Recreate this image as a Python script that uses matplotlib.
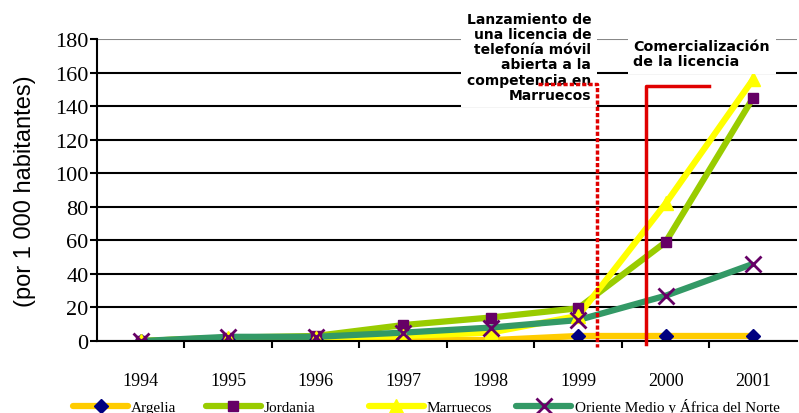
import matplotlib
matplotlib.use("Agg")
import matplotlib.pyplot as plt
from matplotlib.lines import Line2D

years = ["1994", "1995", "1996", "1997", "1998", "1999", "2000", "2001"]
argelia = [0, 0.5, 0.5, 1, 0.5, 3, 3, 3]
jordania = [0, 2, 3, 9.5, 14, 19.5, 59, 145]
marruecos = [0, 2, 2, 3, 5, 15, 82, 156]
oriente = [0, 2.5, 2.5, 5, 8, 12.5, 27, 46]
series_names = ["Argelia", "Jordania", "Marruecos", "Oriente Medio y África del Norte"]

yticks = [0, 20, 40, 60, 80, 100, 120, 140, 160, 180]
ylabel = "(por 1 000 habitantes)"
note1 = "Lanzamiento de\nuna licencia de\ntelefonía móvil\nabierta a la\ncompetencia en\nMarruecos"
note2 = "Comercialización\nde la licencia"
# event markers (category-index positions) and their top values
launch_x = [4.54, 5.22, 5.22]
launch_y = [153, 153, -3.5]
comm_x = [6.50, 5.78, 5.78]
comm_y = [152, 152, -2]

fig = plt.figure(figsize=(7.99, 4.14), dpi=100)
ax = fig.add_axes([0.1214, 0.1739, 0.876, 0.7295])

x = list(range(len(years)))
styles = [
    (argelia, "#FFCC00", "D", "#000080", 7, 1),
    (jordania, "#99CC00", "s", "#660066", 7, 1),
    (marruecos, "#FFFF00", "^", "#FFFF00", 10, 1),
    (oriente, "#339966", "x", "#660066", 12, 2),
]
handles = []
for vals, lc, mk, mc, ms, mew in styles:
    ax.plot(x, vals, color=lc, lw=4.5, solid_capstyle="butt", zorder=3)
    ax.plot(x, vals, ls="none", marker=mk, ms=ms, mfc=mc, mec=mc, mew=mew, zorder=4)
    handles.append(Line2D([0], [0], color=lc, lw=4.5, marker=mk, ms=ms, mfc=mc, mec=mc, mew=mew,
                          solid_capstyle="round"))

# red event lines
ax.plot(launch_x, launch_y, color="#E00000", lw=2.5, ls=(0, (1.2, 0.6)), zorder=6, clip_on=False)
ax.plot(comm_x, comm_y, color="#E00000", lw=2.5, zorder=6, clip_on=False)

ax.set_xlim(-0.5, 7.5)
ax.set_ylim(0, 180)
ax.set_yticks(yticks)
ax.set_yticklabels([str(v) for v in yticks], fontfamily="Liberation Serif", fontsize=16)
ax.set_xticks(x)
ax.set_xticklabels(years, fontfamily="Liberation Serif", fontsize=13)
ax.set_xticks([i + 0.5 for i in x[:-1]], minor=True)
ax.tick_params(axis="x", which="major", length=0, pad=22)
ax.tick_params(axis="x", which="minor", length=5, width=1.5, direction="out")
ax.tick_params(axis="y", length=5, width=1.5, direction="out", pad=1)

ax.yaxis.grid(True, color="black", lw=1.5, zorder=1)
ax.set_axisbelow(True)
for s in ["top", "right"]:
    ax.spines[s].set_visible(False)
for s in ["left", "bottom"]:
    ax.spines[s].set_linewidth(1.5)
    ax.spines[s].set_zorder(5)
gl = ax.get_ygridlines()
gl[-1].set_color("#888888")

ax.set_ylabel(ylabel, fontfamily="Liberation Sans", fontsize=17, labelpad=14)

ax.text(5.15, 196, note1, ha="right", va="top", fontsize=10, fontweight="bold",
        family="DejaVu Sans", linespacing=1.1, zorder=5,
        bbox=dict(facecolor="white", edgecolor="none", pad=4))
ax.text(5.63, 180, note2, ha="left", va="top", fontsize=10.3, fontweight="bold",
        family="DejaVu Sans", linespacing=1.1, zorder=5,
        bbox=dict(facecolor="white", edgecolor="none", pad=4))

# legends
legend_pos = [0.078, 0.244, 0.448, 0.633]
for h, name, px in zip(handles, series_names, legend_pos):
    fig.legend([h], [name], loc="lower left", bbox_to_anchor=(px, -0.028), frameon=False,
               handlelength=3.6, handletextpad=0.2, borderpad=0.2,
               prop={"family": "Liberation Serif", "size": 11})

fig.savefig("out.png", dpi=100)
